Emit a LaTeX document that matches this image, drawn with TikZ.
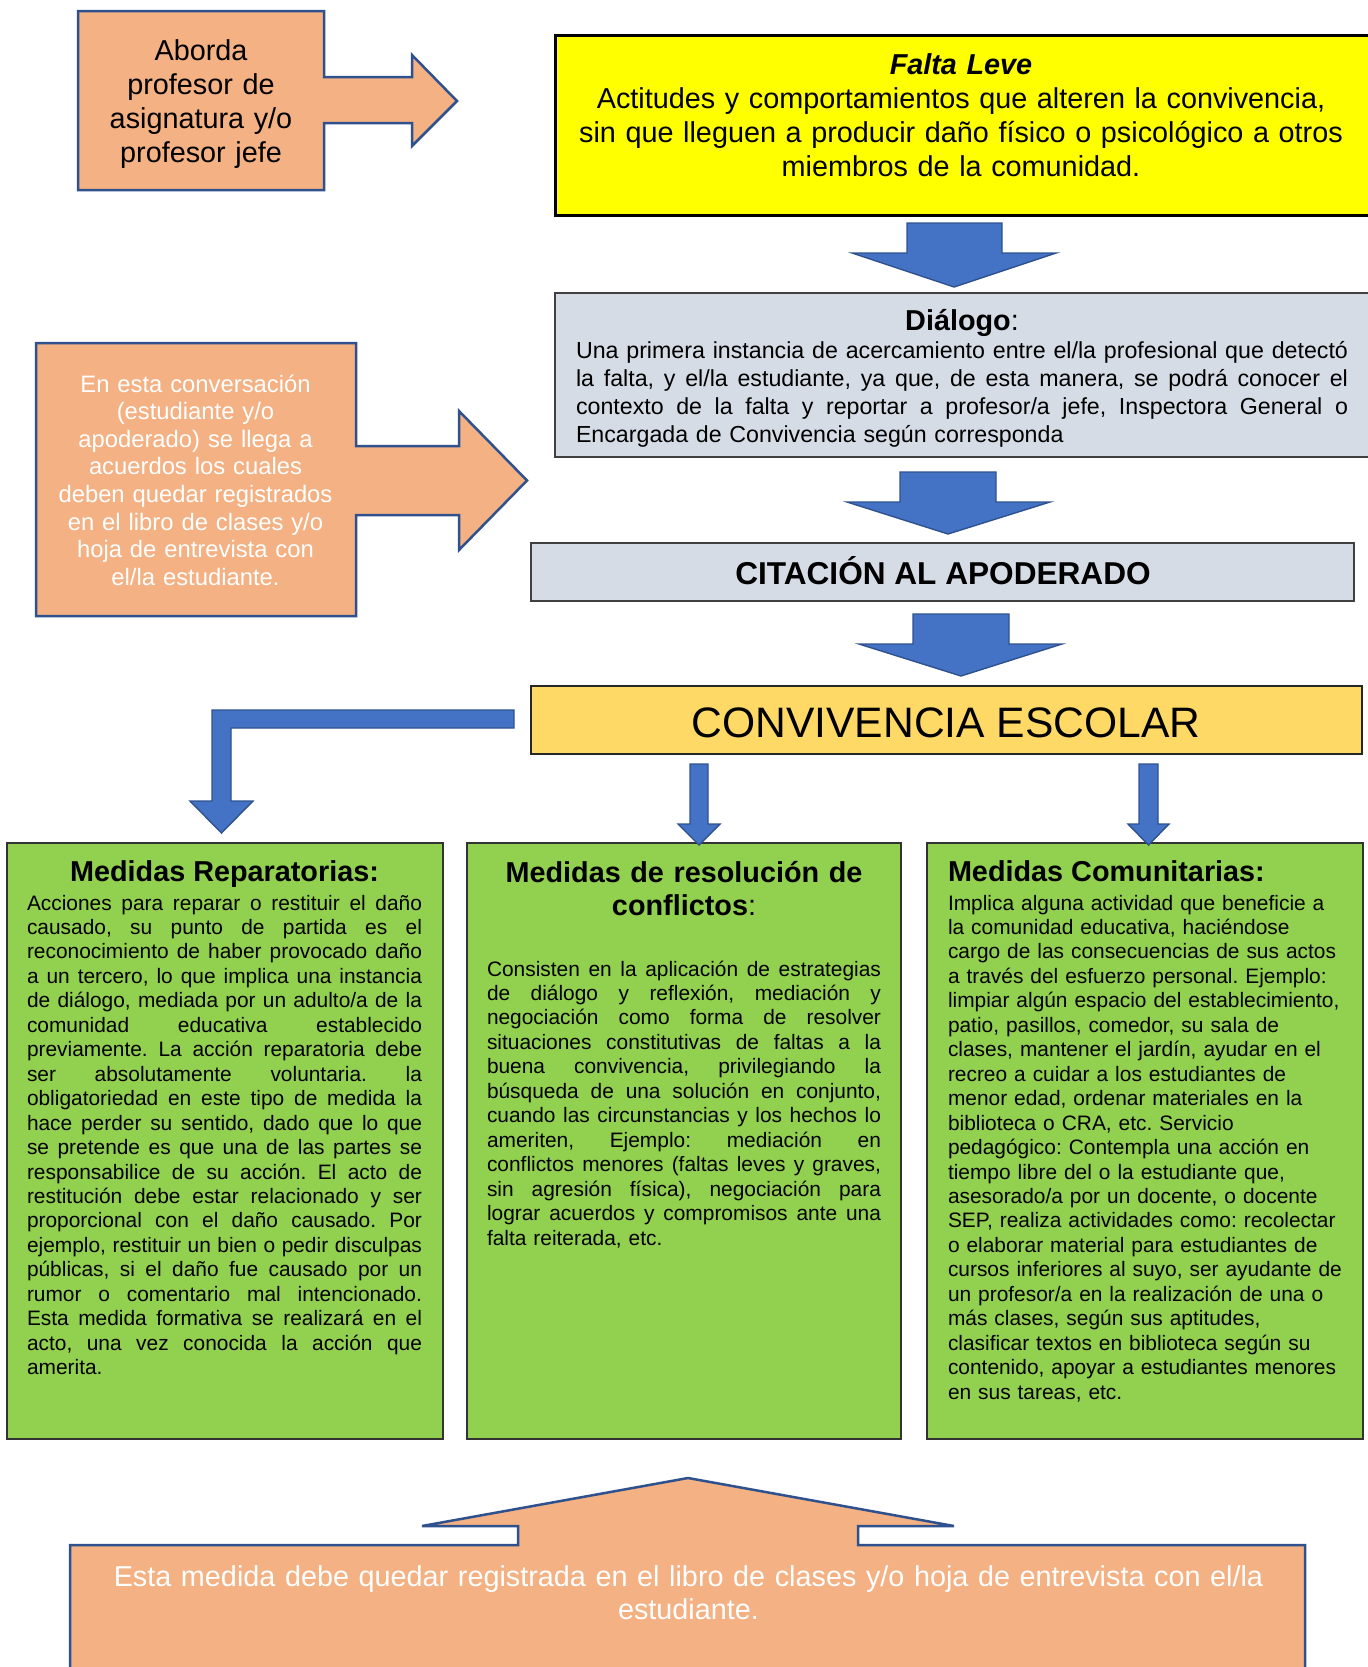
\documentclass[tikz,border=0pt]{standalone}
\usepackage{fontspec}
\setmainfont{Liberation Sans}
\frenchspacing
\definecolor{orng}{HTML}{F4B183}
\definecolor{bluedk}{HTML}{2F528F}
\definecolor{blu}{HTML}{4472C4}
\definecolor{ylw}{HTML}{FFFF00}
\definecolor{gry}{HTML}{D6DCE5}
\definecolor{goldy}{HTML}{FFD966}
\definecolor{grn}{HTML}{92D050}
\definecolor{dkgray}{HTML}{404040}
\newcommand\fbig{\fontsize{14.4}{17}\selectfont}
\newcommand\fmid{\fontsize{11.9}{13.8}\selectfont}
\newcommand\fdia{\fontsize{11.6}{13.9}\selectfont}
\newcommand\fsml{\fontsize{10.45}{12.23}\selectfont}
\newcommand\jw{100pt}
\newcommand\jl[1]{{\spaceskip=\fontdimen2\font plus 1fil\relax\makebox[\jw][s]{#1}}}
\tikzset{
  calloutshape/.style={fill=orng, draw=bluedk, line width=1.25pt, line join=miter},
  blockarrow/.style={fill=blu, draw=bluedk, line width=0.7pt, line join=miter},
  txt/.style={inner sep=0pt, outer sep=0pt},
  graybox/.style={fill=gry, draw=dkgray, line width=1pt},
  greenbox/.style={fill=grn, draw=black!80, line width=0.6pt},
}
\begin{document}
\begin{tikzpicture}[x=0.5pt, y=-0.5pt]
\useasboundingbox[fill=white] (0,0) rectangle (1367,1667);

% ---------- orange callouts ----------
\draw[calloutshape] (78,11) -- (324,11) -- (324,77) -- (412,77) -- (412,55) -- (457,101)
  -- (412,146) -- (412,123) -- (324,123) -- (324,190) -- (78,190) -- cycle;
\node[txt, anchor=base, text width=130pt, align=center, font=\fbig] (aborda) at (201,60)
  {Aborda\\profesor de\\asignatura y/o\\profesor jefe};

\draw[calloutshape] (36,343) -- (356,343) -- (356,446) -- (459,446) -- (459,411) -- (527,480.5)
  -- (459,550) -- (459,515) -- (356,515) -- (356,616) -- (36,616) -- cycle;
\node[txt, anchor=base, text width=155pt, align=center, font=\fmid, text=white] (conv) at (195.5,392)
  {En esta conversación\\(estudiante y/o\\apoderado) se llega a\\acuerdos los cuales\\deben quedar registrados\\en el libro de clases y/o\\hoja de entrevista con\\el/la estudiante.};

% ---------- Falta Leve ----------
\draw[fill=ylw, draw=black, line width=1.5pt] (555,35) rectangle (1380,215);
\node[txt, anchor=base, text width=400pt, align=center, font=\fbig] (falta) at (961,74.5)
  {\textbf{\textit{Falta Leve}}\\Actitudes y comportamientos que alteren la convivencia,\\sin que lleguen a producir daño físico o psicológico a otros\\miembros de la comunidad.};

% ---------- Dialogo ----------
\draw[graybox] (555,293) rectangle (1380,457);
\node[txt, anchor=base, font=\fbig] (dtitle) at (962,330) {\textbf{Diálogo}:};
\node[txt, anchor=base west, text width=386pt, align=left, font=\fdia] (dbody) at (576,358.6)
  {\renewcommand\jw{386pt}%
   \jl{Una primera instancia de acercamiento entre el/la profesional que detectó}\\
   \jl{la falta, y el/la estudiante, ya que, de esta manera, se podrá conocer el}\\
   \jl{contexto de la falta y reportar a profesor/a jefe, Inspectora General o}\\
   Encargada de Convivencia según corresponda};

% ---------- Citacion ----------
\draw[graybox] (531,543) rectangle (1354,601);
\node[txt, anchor=base, font=\fontsize{15.8}{18}\selectfont\bfseries] (cita) at (943,584) {CITACIÓN AL APODERADO};

% ---------- Convivencia ----------
\draw[fill=goldy, draw=black!85, line width=0.9pt] (531,686) rectangle (1362,754);
\node[txt, anchor=base, font=\fontsize{21.3}{24}\selectfont] (convesc) at (946,737) {CONVIVENCIA ESCOLAR};

% ---------- green boxes ----------
\draw[greenbox] (7,843) rectangle (443,1439);
\draw[greenbox] (467,843) rectangle (901,1439);
\draw[greenbox] (927,843) rectangle (1363,1439);

\node[txt, anchor=base, font=\fbig\bfseries] (repT) at (224.5,881) {Medidas Reparatorias:};
\node[txt, anchor=base west, text width=197.5pt, align=left, font=\fsml] (repB) at (27,910)
  {\renewcommand\jw{197.5pt}%
   \jl{Acciones para reparar o restituir el daño}\\
   \jl{causado, su punto de partida es el}\\
   \jl{reconocimiento de haber provocado daño}\\
   \jl{a un tercero, lo que implica una instancia}\\
   \jl{de diálogo, mediada por un adulto/a de la}\\
   \jl{comunidad educativa establecido}\\
   \jl{previamente. La acción reparatoria debe}\\
   \jl{ser absolutamente voluntaria. la}\\
   \jl{obligatoriedad en este tipo de medida la}\\
   \jl{hace perder su sentido, dado que lo que}\\
   \jl{se pretende es que una de las partes se}\\
   \jl{responsabilice de su acción. El acto de}\\
   \jl{restitución debe estar relacionado y ser}\\
   \jl{proporcional con el daño causado. Por}\\
   \jl{ejemplo, restituir un bien o pedir disculpas}\\
   \jl{públicas, si el daño fue causado por un}\\
   \jl{rumor o comentario mal intencionado.}\\
   \jl{Esta medida formativa se realizará en el}\\
   \jl{acto, una vez conocida la acción que}\\
   amerita.};

\node[txt, anchor=base, text width=210pt, align=center, font=\fontsize{14.4}{16.5}\selectfont] (resT) at (684,882)
  {\textbf{Medidas de resolución de}\\\textbf{conflictos}:};
\node[txt, anchor=base west, text width=197pt, align=left, font=\fsml] (resB) at (487,976)
  {\renewcommand\jw{197pt}%
   \jl{Consisten en la aplicación de estrategias}\\
   \jl{de diálogo y reflexión, mediación y}\\
   \jl{negociación como forma de resolver}\\
   \jl{situaciones constitutivas de faltas a la}\\
   \jl{buena convivencia, privilegiando la}\\
   \jl{búsqueda de una solución en conjunto,}\\
   \jl{cuando las circunstancias y los hechos lo}\\
   \jl{ameriten, Ejemplo: mediación en}\\
   \jl{conflictos menores (faltas leves y graves,}\\
   \jl{sin agresión física), negociación para}\\
   \jl{lograr acuerdos y compromisos ante una}\\
   falta reiterada, etc.};

\node[txt, anchor=base west, font=\fbig\bfseries] (comT) at (948,881) {Medidas Comunitarias:};
\node[txt, anchor=base west, text width=205pt, align=left, font=\fsml] (comB) at (948,910)
  {Implica alguna actividad que beneficie a\\
   la comunidad educativa, haciéndose\\
   cargo de las consecuencias de sus actos\\
   a través del esfuerzo personal. Ejemplo:\\
   limpiar algún espacio del establecimiento,\\
   patio, pasillos, comedor, su sala de\\
   clases, mantener el jardín, ayudar en el\\
   recreo a cuidar a los estudiantes de\\
   menor edad, ordenar materiales en la\\
   biblioteca o CRA, etc. Servicio\\
   pedagógico: Contempla una acción en\\
   tiempo libre del o la estudiante que,\\
   asesorado/a por un docente, o docente\\
   SEP, realiza actividades como: recolectar\\
   o elaborar material para estudiantes de\\
   cursos inferiores al suyo, ser ayudante de\\
   un profesor/a en la realización de una o\\
   más clases, según sus aptitudes,\\
   clasificar textos en biblioteca según su\\
   contenido, apoyar a estudiantes menores\\
   en sus tareas, etc.};

% ---------- block arrows ----------
\draw[blockarrow] (907,223) -- (1002,223) -- (1002,253) -- (1056,253) -- (954,287) -- (852,253) -- (907,253) -- cycle;
\draw[blockarrow] (900,472) -- (996,472) -- (996,502) -- (1050,502) -- (948,534) -- (847,502) -- (900,502) -- cycle;
\draw[blockarrow] (913,614) -- (1009,614) -- (1009,644) -- (1062,644) -- (961,676) -- (859,644) -- (913,644) -- cycle;
\draw[blockarrow] (514,710) -- (212,710) -- (212,801) -- (190,801) -- (221.5,833) -- (253,801) -- (231,801) -- (231,728) -- (514,728) -- cycle;
\draw[blockarrow] (690,764) -- (708,764) -- (708,824) -- (720,824) -- (699,845) -- (678,824) -- (690,824) -- cycle;
\draw[blockarrow] (1139,764) -- (1158,764) -- (1158,824) -- (1169,824) -- (1148.5,845) -- (1128,824) -- (1139,824) -- cycle;

% ---------- bottom callout ----------
\draw[calloutshape] (70,1700) -- (70,1545) -- (518,1545) -- (518,1526) -- (422,1526) -- (688,1478)
  -- (954,1526) -- (858,1526) -- (858,1545) -- (1305,1545) -- (1305,1700) -- cycle;
\node[txt, anchor=base, text width=620pt, align=center, font=\fontsize{14.4}{16.5}\selectfont, text=white] (bottom) at (688.5,1586.5)
  {Esta medida debe quedar registrada en el libro de clases y/o hoja de entrevista con el/la\\estudiante.};
\end{tikzpicture}
\end{document}
